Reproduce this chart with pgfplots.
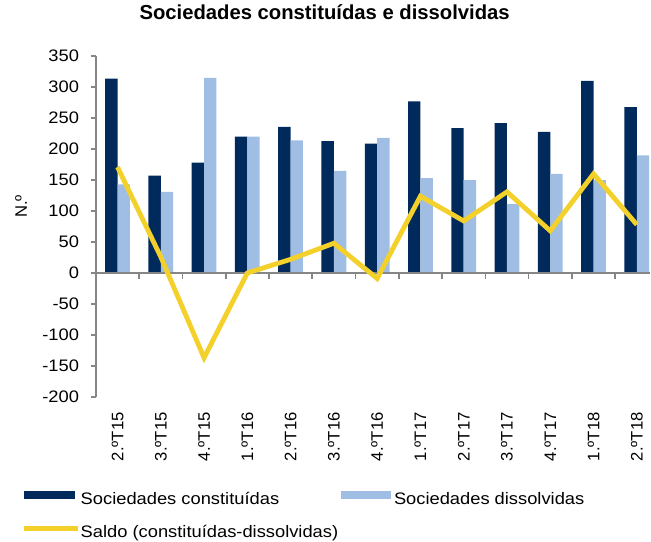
\documentclass[border=0pt]{standalone}
\usepackage{pgfplots}
\pgfplotsset{compat=1.18}
\usetikzlibrary{calc}
\usepackage{fontspec}
\setmainfont{Liberation Sans}
\newfontfamily\widefont{Liberation Sans}[FakeStretch=1.1]

\definecolor{navy}{HTML}{00295C}
\definecolor{lightblue}{HTML}{A0BEE3}
\definecolor{saldo}{HTML}{F3D02A}
\definecolor{axisgray}{HTML}{868686}

\begin{document}
\begin{tikzpicture}
\begin{axis}[
  name=ax,
  scale only axis,
  width=416.25pt, height=255.75pt,
  xmin=-0.5, xmax=12.31,
  ymin=-200, ymax=350,
  ytick={-200,-150,...,350},
  xtick={0,...,12},
  xticklabels={2.ºT15,3.ºT15,4.ºT15,1.ºT16,2.ºT16,3.ºT16,4.ºT16,1.ºT17,2.ºT17,3.ºT17,4.ºT17,1.ºT18,2.ºT18},
  axis lines*=left,
  x axis line style={draw=none},
  y axis line style={axisgray, line width=1.2pt},
  xtick style={draw=none},
  ytick style={axisgray, line width=1.2pt},
  tick align=outside,
  major tick length=3.5pt,
  /pgf/number format/assume math mode=true,
  yticklabel style={font=\widefont\fontsize{12.5}{15}\selectfont, inner sep=0pt, xshift=-9pt},
  xticklabel style={font=\fontsize{12.5}{15}\selectfont, rotate=90, anchor=east, inner sep=0pt},
  xticklabel shift=8pt,
  ylabel={N.º},
  ylabel style={font=\fontsize{12.5}{15}\selectfont, at={(axis description cs:-0.135,0.559)}, anchor=center},
  title={Sociedades constituídas e dissolvidas},
  title style={font=\bfseries\fontsize{15.2}{18}\selectfont, at={(axis description cs:0.4126,1.085)}, anchor=base},
  clip=false,
  legend columns=2,
  legend cell align=left,
  legend style={at={(-0.1333,-0.278)}, anchor=north west, draw=none, fill=none,
    inner sep=0pt, outer sep=0pt, row sep=12.2pt, column sep=0pt,
    font=\widefont\fontsize{12.5}{15}\selectfont,
    nodes={inner sep=0pt, text height=9.5pt, text depth=3pt}},
]

\addplot[ybar, bar width=9.3pt, bar shift=-4.65pt, fill=navy, draw=none,
  legend image code/.code={\fill[navy] (0pt,0.5pt) rectangle (38pt,6.5pt); \path (38.75pt,3.5pt);}]
  coordinates {(0,314) (1,157) (2,178) (3,220) (4,236) (5,213) (6,209) (7,277) (8,234) (9,242) (10,228) (11,310) (12,268)};
\addlegendentry{\makebox[195.75pt][l]{Sociedades constituídas}}

\addplot[ybar, bar width=9.3pt, bar shift=4.65pt, fill=lightblue, draw=none,
  legend image code/.code={\fill[lightblue] (0pt,0.5pt) rectangle (37pt,6.5pt); \path (39.5pt,3.5pt);}]
  coordinates {(0,143) (1,131) (2,315) (3,220) (4,214) (5,165) (6,218) (7,153) (8,150) (9,111) (10,160) (11,150) (12,190)};
\addlegendentry{Sociedades dissolvidas}

% zero line
\draw[axisgray, line width=1.2pt] (axis cs:-0.5,0) -- (axis cs:12.31,0);

\addplot[saldo, line width=3.6pt, sharp plot,
  legend image code/.code={\draw[saldo, line width=3.6pt] (0pt,3.5pt) -- (40pt,3.5pt); \path (40.5pt,3.5pt);}]
  coordinates {(0,171) (1,26) (2,-137) (3,0) (4,22) (5,48) (6,-9) (7,124) (8,84) (9,131) (10,68) (11,160) (12,78)};
\addlegendentry{\makebox[195.75pt][l]{Saldo (constituídas-dissolvidas)}}

\end{axis}
% ticks between the categories on the zero line (one category = 32.494pt, zero 93pt above the bottom)
\foreach \i in {1,...,12}
  \draw[axisgray, line width=1.2pt] ($(ax.south west)+(\i*32.494pt,93pt)$) -- ++(0,-4.5pt);
\path[use as bounding box] ($(ax.south west)+(-72pt,-106.5pt)$) rectangle ($(ax.south west)+(416.25pt,297.75pt)$);
\end{tikzpicture}
\end{document}
